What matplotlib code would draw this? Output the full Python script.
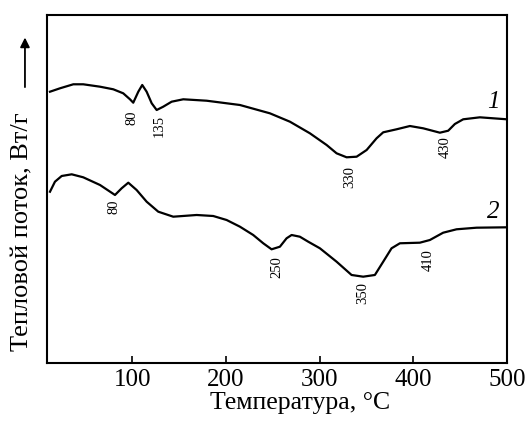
import matplotlib
matplotlib.use("Agg")
from matplotlib import pyplot as plt
from matplotlib.patches import FancyArrowPatch

plt.rcParams['font.family'] = ['Liberation Serif', 'DejaVu Serif']

# curve 1 (temperature, heat flow in arbitrary units)
t1 = [12.2, 22.9, 37.1, 47.7, 65.6, 79.8, 90.4, 97.6, 101.1, 106.5, 110.7, 115.4,
      120.8, 126.1, 133.1, 142.1, 154.5, 179.5, 215, 247, 268.4, 289.7, 307.6, 318.2,
      328.9, 339.6, 350.3, 360.9, 368, 382.3, 396.5, 410.7, 428.5, 437.4, 444.5,
      453.4, 471.2, 500]
q1 = [77.96, 78.94, 80.09, 80.09, 79.40, 78.65, 77.50, 75.78, 74.80, 77.96, 79.89, 77.96,
      74.63, 72.70, 73.65, 75.09, 75.78, 75.37, 74.14, 71.75, 69.34, 66.01, 62.64, 60.26,
      59.11, 59.28, 61.21, 64.57, 66.29, 67.16, 68.10, 67.44, 66.18, 66.75, 68.68,
      70.03, 70.60, 70.03]

# curve 2
t2 = [12.2, 17.5, 24.7, 35.4, 47.7, 65.6, 81.6, 88.7, 95.8, 104.7, 115.4, 127.8,
      143.8, 168.8, 186.5, 200.8, 215, 229.2, 239.9, 248.8, 257.7, 264.8, 270.2, 279,
      287.9, 300.4, 318.2, 334.2, 346.6, 359.1, 368, 376.9, 385.8, 407.1, 417.8, 432,
      446.3, 467.7, 500]
q2 = [49.22, 52.10, 53.74, 54.22, 53.36, 51.15, 48.28, 50.20, 51.81, 49.71, 46.35, 43.48,
      42.04, 42.53, 42.24, 41.09, 39.17, 36.78, 34.40, 32.67, 33.42, 35.83, 36.78, 36.29,
      34.86, 32.96, 29.11, 25.29, 24.80, 25.29, 29.11, 32.96, 34.40, 34.57, 35.34, 37.44,
      38.42, 38.88, 38.99]

# peak labels: text, x, y
peaks1 = [("80", 100, 70.5), ("135", 128.5, 68), ("330", 332, 53.5), ("430", 434, 62)]
peaks2 = [("80", 81, 45), ("250", 254, 27.5), ("350", 346, 20), ("410", 416, 29.5)]

fig = plt.figure(figsize=(5.31, 4.24), dpi=100)
ax = fig.add_axes([0.0885, 0.1439, 0.866, 0.8207])

ax.plot(t1, q1, color='black', linewidth=1.6, solid_joinstyle='round')
ax.plot(t2, q2, color='black', linewidth=1.6, solid_joinstyle='round')

for txt, x, y in peaks1 + peaks2:
    ax.text(x, y, txt, rotation=90, ha='center', va='center', fontsize=10.5)

ax.text(485.4, 75.1, "1", fontsize=18, style='italic', ha='center', va='center')
ax.text(485.4, 43.5, "2", fontsize=18, style='italic', ha='center', va='center')

ax.set_xlim(9, 500)
ax.set_ylim(0, 100)
ax.set_xticks([100, 200, 300, 400, 500])
ax.set_yticks([])
ax.tick_params(axis='x', direction='in', length=5, width=1.2, labelsize=18, pad=4)
for s in ax.spines.values():
    s.set_linewidth(1.5)

ax.set_xlabel("Температура, °С", fontsize=18.5, labelpad=1, x=0.55)
fig.text(0.043, 0.453, "Тепловой поток, Вт/г", rotation=90, fontsize=19,
         ha='center', va='center')
fig.add_artist(FancyArrowPatch(
    (0.047, 0.788), (0.047, 0.918), transform=fig.transFigure,
    arrowstyle='-|>', mutation_scale=14, color='black', linewidth=1.3))

fig.savefig("out.png", dpi=100)
